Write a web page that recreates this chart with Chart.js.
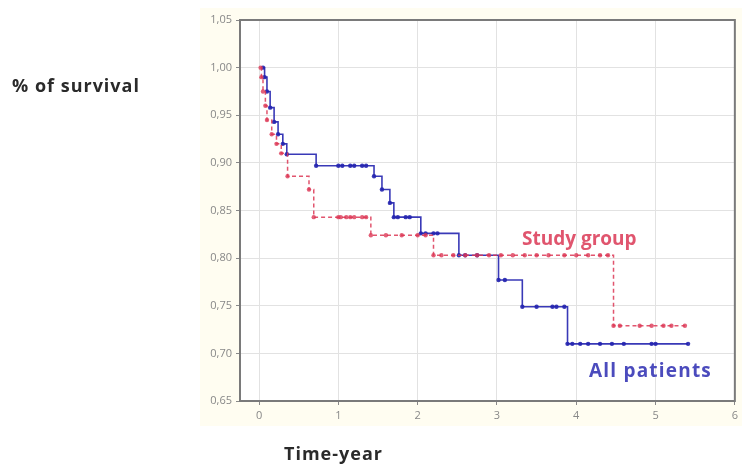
<!DOCTYPE html>
<html>
<head>
<meta charset="utf-8">
<script src="https://cdn.jsdelivr.net/npm/chart.js@4.4.1/dist/chart.umd.min.js"></script>
<style>
  html, body { margin: 0; padding: 0; background: #fff; }
  #wrap { width: 742px; height: 468px; position: relative; }
</style>
</head>
<body>
<div id="wrap"><canvas id="kmChart" width="742" height="468"></canvas></div>
<script>
// courbes de survie (temps en années)
const allX = [0.05, 0.07, 0.10, 0.14, 0.19, 0.24, 0.30, 0.35, 0.72, 1.00, 1.05, 1.15, 1.20, 1.30, 1.35, 1.45, 1.55, 1.65, 1.70, 1.75, 1.85, 1.90, 2.04, 2.10, 2.20, 2.25, 2.52, 2.60, 2.75, 3.02, 3.10, 3.32, 3.50, 3.70, 3.75, 3.85, 3.89, 3.95, 4.05, 4.15, 4.30, 4.45, 4.60, 4.95, 5.00, 5.41];
const allY = [1.000, 0.990, 0.975, 0.958, 0.943, 0.930, 0.920, 0.909, 0.897, 0.897, 0.897, 0.897, 0.897, 0.897, 0.897, 0.886, 0.872, 0.858, 0.843, 0.843, 0.843, 0.843, 0.826, 0.826, 0.826, 0.826, 0.803, 0.803, 0.803, 0.777, 0.777, 0.749, 0.749, 0.749, 0.749, 0.749, 0.710, 0.710, 0.710, 0.710, 0.710, 0.710, 0.710, 0.710, 0.710, 0.710];

const studyX = [0.02, 0.03, 0.05, 0.08, 0.10, 0.16, 0.22, 0.28, 0.36, 0.63, 0.69, 1.00, 1.03, 1.10, 1.15, 1.20, 1.30, 1.35, 1.41, 1.60, 1.80, 2.00, 2.10, 2.20, 2.30, 2.45, 2.60, 2.75, 2.90, 3.05, 3.20, 3.35, 3.50, 3.65, 3.85, 4.00, 4.15, 4.30, 4.40, 4.47, 4.55, 4.80, 4.95, 5.10, 5.20, 5.37];
const studyY = [1.000, 0.990, 0.975, 0.960, 0.945, 0.930, 0.920, 0.910, 0.886, 0.872, 0.843, 0.843, 0.843, 0.843, 0.843, 0.843, 0.843, 0.843, 0.824, 0.824, 0.824, 0.824, 0.824, 0.803, 0.803, 0.803, 0.803, 0.803, 0.803, 0.803, 0.803, 0.803, 0.803, 0.803, 0.803, 0.803, 0.803, 0.803, 0.803, 0.729, 0.729, 0.729, 0.729, 0.729, 0.729, 0.729];

const xTicks = [0, 1, 2, 3, 4, 5, 6];
const yMin = 0.65, yMax = 1.05, yStep = 0.05;

function toPoints(xs, ys) {
    return xs.map((x, i) => ({ x: x, y: ys[i] }));
}

// fond crème, zone blanche, cadre et textes
const decor = {
    id: 'decor',
    beforeDraw(chart) {
        const ctx = chart.ctx;
        const a = chart.chartArea;
        ctx.save();
        ctx.fillStyle = '#fffdf1';
        ctx.fillRect(200, 8, 542, 418);
        ctx.fillStyle = '#ffffff';
        ctx.fillRect(a.left, a.top, a.right - a.left, a.bottom - a.top);
        ctx.restore();
    },
    afterDraw(chart) {
        const ctx = chart.ctx;
        const a = chart.chartArea;
        ctx.save();
        ctx.strokeStyle = '#7a7a7a';
        ctx.lineWidth = 2;
        ctx.strokeRect(a.left, a.top, a.right - a.left, a.bottom - a.top);

        ctx.textBaseline = 'middle';
        ctx.fillStyle = '#2a2a2a';
        ctx.font = 'bold 18px "Open Sans"';
        ctx.letterSpacing = '1px';
        ctx.fillText('% of survival', 12, 87);
        ctx.fillText('Time-year', 284, 455);

        ctx.font = 'bold 19px "Open Sans"';
        ctx.letterSpacing = '0px';
        ctx.fillStyle = '#e0556e';
        ctx.fillText('Study group', 522, 240);
        ctx.letterSpacing = '1.2px';
        ctx.fillStyle = '#4b4bbd';
        ctx.fillText('All patients', 589, 372);
        ctx.restore();
    }
};

new Chart(document.getElementById('kmChart'), {
    type: 'line',
    data: {
        datasets: [
            {
                label: 'Study group',
                data: toPoints(studyX, studyY),
                stepped: 'before',
                borderColor: 'rgba(220, 55, 85, 0.85)',
                borderWidth: 1.5,
                borderDash: [4, 3],
                pointRadius: 2.2,
                pointBackgroundColor: 'rgba(220, 55, 85, 0.8)',
                pointBorderWidth: 0,
                fill: false
            },
            {
                label: 'All patients',
                data: toPoints(allX, allY),
                stepped: 'before',
                borderColor: 'rgba(35, 35, 175, 0.9)',
                borderWidth: 1.6,
                pointRadius: 2.2,
                pointBackgroundColor: 'rgba(35, 35, 175, 0.9)',
                pointBorderWidth: 0,
                fill: false
            }
        ]
    },
    options: {
        responsive: false,
        animation: false,
        layout: { padding: { left: 0, right: 5, top: 20, bottom: 0 } },
        plugins: {
            legend: { display: false },
            tooltip: { enabled: false }
        },
        scales: {
            x: {
                type: 'linear',
                min: -0.24,
                max: 6,
                afterBuildTicks: (axis) => { axis.ticks = xTicks.map(v => ({ value: v })); },
                afterFit: (axis) => { axis.height = 67; },
                grid: { color: '#e2e2e2', tickLength: 4, tickColor: '#888' },
                border: { display: false },
                ticks: {
                    color: '#888',
                    font: { family: 'Open Sans', size: 11 },
                    padding: 4,
                    maxRotation: 0
                }
            },
            y: {
                min: yMin,
                max: yMax,
                afterBuildTicks: (axis) => {
                    const t = [];
                    for (let i = 0; i <= Math.round((yMax - yMin) / yStep); i++) {
                        t.push({ value: +(yMin + i * yStep).toFixed(2) });
                    }
                    axis.ticks = t;
                },
                afterFit: (axis) => { axis.width = 240; },
                grid: { color: '#e2e2e2', tickLength: 4, tickColor: '#888' },
                border: { display: false },
                ticks: {
                    color: '#888',
                    font: { family: 'Open Sans', size: 11 },
                    padding: 4,
                    callback: (v) => v.toFixed(2).replace('.', ',')
                }
            }
        }
    },
    plugins: [decor]
});
</script>
</body>
</html>
